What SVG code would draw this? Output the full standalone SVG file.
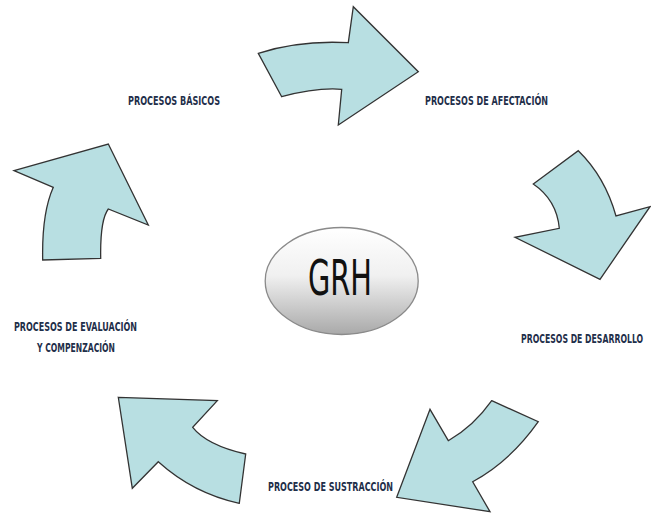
<svg xmlns="http://www.w3.org/2000/svg" width="651" height="513" viewBox="0 0 651 513">
<defs>
<linearGradient id="g" x1="0" y1="0" x2="0" y2="1">
<stop offset="0" stop-color="#ffffff"/>
<stop offset="0.45" stop-color="#f0f0f0"/>
<stop offset="1" stop-color="#a9a9a9"/>
</linearGradient>
<style>
.arr{fill:#b8dfe2;stroke:#333;stroke-width:1.3;stroke-linejoin:miter}
.lbl{font-family:"Liberation Sans Narrow","DejaVu Sans Condensed",sans-serif;font-weight:bold;font-size:11.5px;fill:#1f2f4a}
</style>
</defs>
<rect width="651" height="513" fill="#fff"/>
<g id="connectors">
<path class="arr" d="M258.3,53.3 Q300,40 348.3,42.7 L353.3,6.7 L418.3,71.7 L338.3,125 L341.7,89.3 Q316.7,87.3 281.7,96.7 Z"/>
<path class="arr" d="M533.3,184 L578.3,150.7 Q605,176.7 616,216 L650,206.7 L600,279.3 L515,237.3 L559.3,228.3 Q556.7,200 533.3,184 Z"/>
<path class="arr" d="M491.7,400.7 L538.3,421.7 Q510,461.7 472.7,481.7 L490,511.7 L396.7,497.3 L430,409.3 L448.3,440.7 Q473.3,426.7 491.7,400.7 Z"/>
<path class="arr" d="M118.3,397.3 L217.3,400.7 L192.7,427.3 Q206.7,445 245.7,454 L239.3,503.3 Q193.3,493.3 158.3,461.7 L132.3,488.3 Z"/>
<path class="arr" d="M14,170.7 L108.3,144 L148.3,225 L108.3,209 Q100,220 100.7,258.3 L42.7,260 Q41.7,213.3 53.3,187.3 Z"/>
</g>
<g id="center">
<ellipse cx="341.7" cy="281" rx="76.5" ry="53.5" fill="url(#g)" stroke="#8a8a8a" stroke-width="1.3"/>
<text x="308" y="295" font-family="'Liberation Sans Narrow','DejaVu Sans Condensed',sans-serif" font-size="50" fill="#111" textLength="64" lengthAdjust="spacingAndGlyphs">GRH</text>
</g>
<g id="basicos"><text class="lbl" x="128" y="105" textLength="92" lengthAdjust="spacingAndGlyphs">PROCESOS BÁSICOS</text></g>
<g id="afectacion"><text class="lbl" x="425" y="105" textLength="123" lengthAdjust="spacingAndGlyphs">PROCESOS DE AFECTACIÓN</text></g>
<g id="desarrollo"><text class="lbl" transform="translate(521,343) scale(0.75,1)" x="0" y="0">PROCESOS DE DESARROLLO</text></g>
<g id="sustraccion"><text class="lbl" x="268" y="491" textLength="125" lengthAdjust="spacingAndGlyphs">PROCESO DE SUSTRACCIÓN</text></g>
<g id="evaluacion">
<text class="lbl" x="14" y="331" textLength="123" lengthAdjust="spacingAndGlyphs">PROCESOS DE EVALUACIÓN</text>
<text class="lbl" x="37" y="351.5" textLength="78" lengthAdjust="spacingAndGlyphs">Y COMPENZACIÓN</text>
</g>
</svg>
